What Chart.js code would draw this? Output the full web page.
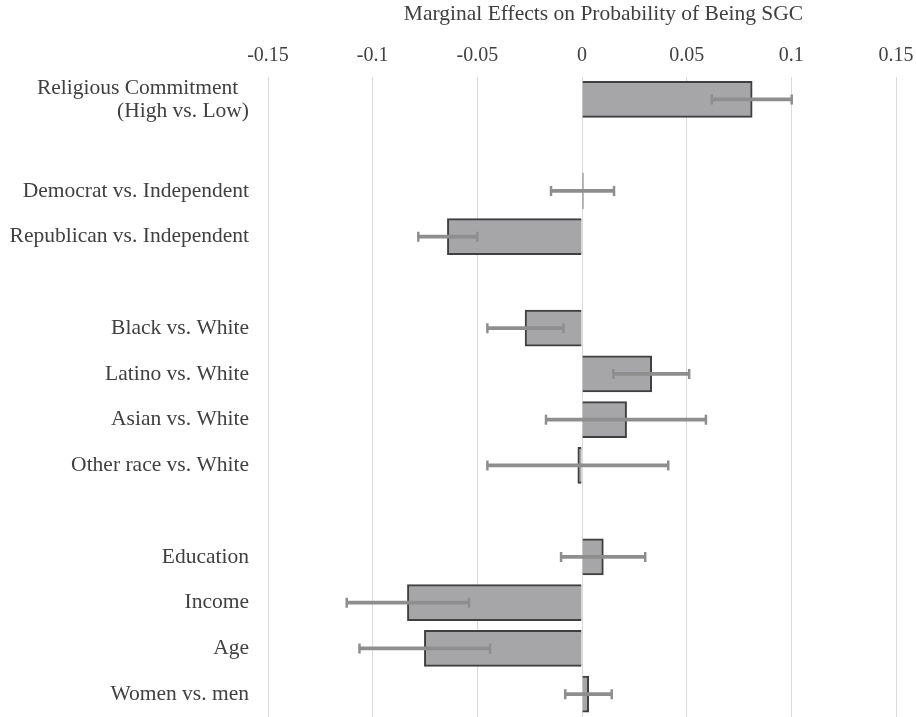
<!DOCTYPE html>
<html>
<head>
<meta charset="utf-8">
<script src="https://cdn.jsdelivr.net/npm/chart.js@4"></script>
<style>
  html, body { margin: 0; padding: 0; background: #fff; }
  #wrap { width: 916px; height: 717px; }
</style>
</head>
<body>
<div id="wrap"><canvas id="effects-chart"></canvas></div>
<script>
// categories, blank strings are the spacer rows
const categories = [
  ["Religious Commitment\u00a0\u00a0", "(High vs. Low)"],
  "",
  "Democrat vs. Independent",
  "Republican vs. Independent",
  "",
  "Black vs. White",
  "Latino vs. White",
  "Asian vs. White",
  "Other race vs. White",
  "",
  "Education",
  "Income",
  "Age",
  "Women vs. men",
];

// marginal effects and error bar ends
const effects = [0.0813, null, 0.0006, -0.0643, null, -0.0272, 0.0333, 0.0213, -0.002, null, 0.0102, -0.0834, -0.0753, 0.0032];
const lower = [0.062, null, -0.0148, -0.0782, null, -0.0452, 0.015, -0.0172, -0.0452, null, -0.01, -0.1124, -0.1063, -0.008];
const upper = [0.1002, null, 0.0153, -0.05, null, -0.0089, 0.0512, 0.0592, 0.0412, null, 0.0302, -0.054, -0.0439, 0.0142];

const tickValues = [-0.15, -0.1, -0.05, 0, 0.05, 0.1, 0.15];
const axisTitle = "Marginal Effects on Probability of Being SGC";

const textColor = "#404040";
const errColor = "#8e8e8e";
const serif = "'Liberation Serif', 'Times New Roman', serif";

const ranges = lower.map((lo, i) => (lo === null ? null : [lo, upper[i]]));

const ctx = document.getElementById("effects-chart");
new Chart(ctx, {
  type: "bar",
  data: {
    labels: categories,
    datasets: [
      {
        label: "Effect",
        data: effects,
        indexAxis: "y",
        backgroundColor: "#a6a6a8",
        borderColor: "#3f3f3f",
        borderWidth: 2,
        barThickness: 36,
        grouped: false,
        order: 3,
      },
      {
        label: "Interval",
        data: ranges,
        indexAxis: "y",
        backgroundColor: errColor,
        borderWidth: 0,
        barThickness: 3,
        grouped: false,
        order: 2,
      },
      {
        type: "line",
        label: "Lower cap",
        data: lower,
        indexAxis: "y",
        showLine: false,
        pointStyle: "line",
        pointRotation: 90,
        pointRadius: 5,
        pointBorderWidth: 2.5,
        pointBorderColor: errColor,
        order: 1,
      },
      {
        type: "line",
        label: "Upper cap",
        data: upper,
        indexAxis: "y",
        showLine: false,
        pointStyle: "line",
        pointRotation: 90,
        pointRadius: 5,
        pointBorderWidth: 2.5,
        pointBorderColor: errColor,
        order: 1,
      },
    ],
  },
  options: {
    indexAxis: "y",
    responsive: true,
    maintainAspectRatio: false,
    animation: false,
    layout: { autoPadding: false, padding: { top: 1, right: 20, left: 0, bottom: -2 } },
    plugins: {
      legend: { display: false },
      tooltip: { enabled: false },
    },
    scales: {
      x: {
        position: "top",
        min: -0.15,
        max: 0.15,
        afterBuildTicks: (scale) => {
          scale.ticks = tickValues.map((v) => ({ value: v }));
        },
        ticks: {
          color: textColor,
          font: { family: serif, size: 20 },
          padding: 9,
          maxRotation: 0,
          callback: (v) => String(+Number(v).toFixed(2)),
        },
        grid: { color: "#d9d9d9", lineWidth: 1, drawTicks: false },
        border: { display: false },
        title: {
          display: true,
          text: "\u00a0".repeat(8) + axisTitle,
          color: textColor,
          font: { family: serif, size: 21.5 },
          padding: { top: 0, bottom: 0 },
        },
        afterFit: (scale) => {
          scale.height = 75.5;
          scale.paddingLeft = 0;
          scale.paddingRight = 0;
        },
      },
      y: {
        ticks: {
          color: textColor,
          font: { family: serif, size: 21.5, lineHeight: 1.07 },
          padding: 19,
          autoSkip: false,
        },
        grid: { display: false, drawTicks: false },
        border: { display: false },
        afterFit: (scale) => {
          scale.width = 268;
          scale.paddingTop = 0;
          scale.paddingBottom = 0;
        },
      },
    },
  },
});
</script>
</body>
</html>
